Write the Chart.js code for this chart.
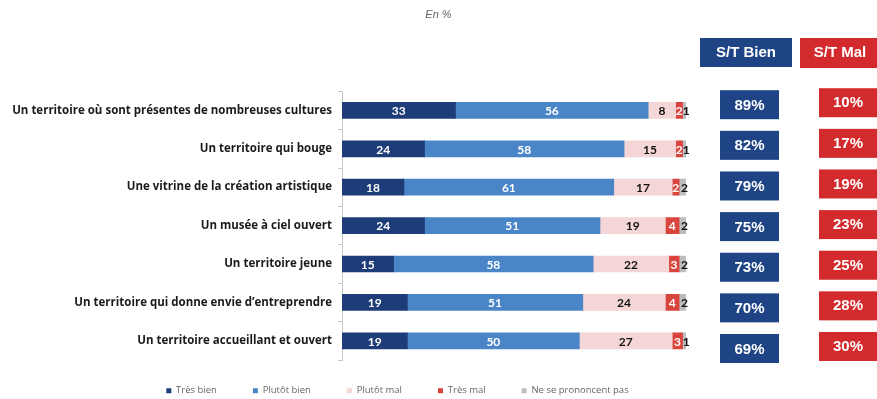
<!DOCTYPE html>
<html>
<head>
<meta charset="utf-8">
<script src="https://cdn.jsdelivr.net/npm/chart.js@4"></script>
<style>
  html, body { margin: 0; padding: 0; background: #fff; }
  #wrap { width: 877px; height: 399px; position: relative; }
</style>
</head>
<body>
<div id="wrap"><canvas id="myChart"></canvas></div>
<script>
// items
const categories = [
  "Un territoire où sont présentes de nombreuses cultures",
  "Un territoire qui bouge",
  "Une vitrine de la création artistique",
  "Un musée à ciel ouvert",
  "Un territoire jeune",
  "Un territoire qui donne envie d’entreprendre",
  "Un territoire accueillant et ouvert"
];

// answers, in %
const tresBien   = [33, 24, 18, 24, 15, 19, 19];
const plutotBien = [56, 58, 61, 51, 58, 51, 50];
const plutotMal  = [8, 15, 17, 19, 22, 24, 27];
const tresMal    = [2, 2, 2, 4, 3, 4, 3];
const nsp        = [1, 1, 2, 2, 2, 2, 1];

// sous-totaux
const stBien = [89, 82, 79, 75, 73, 70, 69];
const stMal  = [10, 17, 19, 23, 25, 28, 30];

const seriesNames = ["Très bien", "Plutôt bien", "Plutôt mal", "Très mal", "Ne se prononcent pas"];
const seriesData = [tresBien, plutotBien, plutotMal, tresMal, nsp];
const seriesColors = ["#1d3c78", "#4a86c7", "#f4d6d6", "#d9453d", "#bdbdbd"];
const labelColors = ["#ffffff", "#ffffff", "#111111", "#ffffff", "#111111"];

const NAVY = "#1f4486";
const RED = "#d22a2d";

// numbers inside the segments
const segmentLabels = {
  id: "segmentLabels",
  afterDatasetsDraw(chart) {
    const ctx = chart.ctx;
    ctx.save();
    ctx.font = "bold 12px Lato";
    ctx.textAlign = "center";
    ctx.textBaseline = "middle";
    chart.data.datasets.forEach((ds, d) => {
      const meta = chart.getDatasetMeta(d);
      meta.data.forEach((bar, i) => {
        const p = bar.getProps(["x", "y", "base"], true);
        let cx = (p.x + p.base) / 2;
        if (d === 4) cx += 2;
        ctx.fillStyle = labelColors[d];
        ctx.fillText(ds.data[i], cx, p.y + 1);
      });
    });
    ctx.restore();
  }
};

// S/T Bien and S/T Mal columns on the right
const subtotalBoxes = {
  id: "subtotalBoxes",
  afterDraw(chart) {
    const ctx = chart.ctx;
    const area = chart.chartArea;
    const y = chart.scales.y;
    const mid = (area.top + area.bottom) / 2;
    const bienX = area.right + 34, malX = area.right + 133;
    ctx.save();
    ctx.textAlign = "center";
    ctx.textBaseline = "middle";

    ctx.font = "bold 15px 'Liberation Sans'";
    ctx.fillStyle = NAVY;
    ctx.fillRect(area.right + 14, 38, 92, 29);
    ctx.fillStyle = RED;
    ctx.fillRect(area.right + 114, 38, 80, 30);
    ctx.fillStyle = "#fff";
    ctx.fillText("S/T Bien", area.right + 60, 53);
    ctx.fillText("S/T Mal", area.right + 154, 53);

    categories.forEach((c, i) => {
      // the boxes are spaced a little wider than the bars
      const cy = mid + (y.getPixelForValue(i) - mid) * 1.058;
      ctx.fillStyle = NAVY;
      ctx.fillRect(bienX, cy - 13.5, 59, 29);
      ctx.fillStyle = RED;
      ctx.fillRect(malX, cy - 15.5, 58, 29);
      ctx.fillStyle = "#fff";
      ctx.fillText(stBien[i] + "%", bienX + 29.5, cy + 2);
      ctx.fillText(stMal[i] + "%", malX + 29, cy - 0.5);
    });
    ctx.restore();
  }
};

// the legend sits under the bars, a bit left of centre, close to the bottom
const legendShift = {
  id: "legendShift",
  afterLayout(chart) {
    const lg = chart.legend;
    lg.left -= 41;
    lg.right -= 41;
    lg.top -= 13;
    lg.height += 13;
  }
};

const myChart = new Chart(document.getElementById("myChart"), {
  type: "bar",
  data: {
    labels: categories,
    datasets: seriesData.map((data, d) => ({
      label: seriesNames[d],
      data: data,
      backgroundColor: seriesColors[d],
      barThickness: 16,
      borderWidth: 0
    }))
  },
  options: {
    indexAxis: "y",
    responsive: true,
    maintainAspectRatio: false,
    animation: false,
    layout: { padding: 0 },
    scales: {
      x: {
        stacked: true,
        min: 0,
        max: 100,
        ticks: { display: false },
        grid: { display: false },
        border: { display: false },
        afterFit(s) { s.height = 3; }
      },
      y: {
        stacked: true,
        ticks: {
          color: "#1a1a1a",
          font: { family: "Open Sans", size: 11.5, weight: "bold" },
          padding: 6
        },
        grid: {
          drawOnChartArea: false,
          drawTicks: true,
          tickLength: 4,
          color: "#c8c8c8",
          offset: true
        },
        border: { display: true, color: "#c8c8c8" },
        afterFit(s) { s.width = 342; }
      },
      y2: {
        position: "right",
        ticks: { display: false },
        grid: { display: false },
        border: { display: false },
        afterFit(s) { s.width = 191; }
      }
    },
    plugins: {
      title: {
        display: true,
        text: "En %",
        color: "#666",
        font: { family: "Liberation Sans", size: 11, style: "italic", weight: "normal" },
        padding: { top: 8, bottom: 70 }
      },
      legend: {
        position: "bottom",
        maxHeight: 36,
        labels: {
          boxWidth: 5,
          boxHeight: 5,
          padding: 36,
          color: "#666",
          font: { family: "Open Sans", size: 9.5 }
        }
      },
      tooltip: { enabled: false }
    }
  },
  plugins: [segmentLabels, subtotalBoxes, legendShift]
});
</script>
</body>
</html>
